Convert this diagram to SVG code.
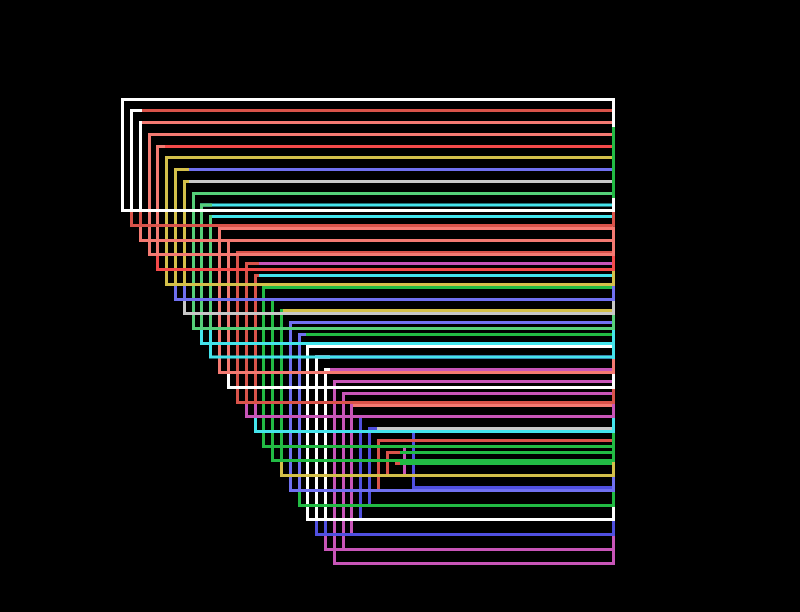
<svg xmlns="http://www.w3.org/2000/svg" width="800" height="612" viewBox="0 0 800 612">
<style>
path{fill:none;stroke-width:3;stroke-linejoin:miter;stroke-linecap:butt}
.w{stroke:#ffffff}.r{stroke:#d9534a}.s{stroke:#f47a72}.rb{stroke:#f44a4a}.y{stroke:#d4c04a}.v{stroke:#7070f0}.gy{stroke:#c8c8c8}.lg{stroke:#55d079}.c{stroke:#44e4ec}.gd{stroke:#22bb44}.m{stroke:#c855b8}.b{stroke:#5050e0}
.fw{fill:#ffffff}.fr{fill:#d9534a}.fs{fill:#f47a72}.frb{fill:#f44a4a}.fy{fill:#d4c04a}.fv{fill:#7070f0}.fgy{fill:#c8c8c8}.flg{fill:#55d079}.fc{fill:#44e4ec}.fgd{fill:#22bb44}.fm{fill:#c855b8}.fb{fill:#5050e0}
</style>
<rect x="0" y="0" width="800" height="612" fill="#000000"/>
<g id="connectors">
<path class="b" d="M613,431.5 H413.5 V487.5 H613"/>
<path class="m" d="M613,446.5 H404.5 V475.5 H613"/>
<path class="gd" d="M613,463.5 H395"/>
<path class="gd" d="M613,452.5 H387.5 V475.5 H613"/>
<path class="r" d="M613,440.5 H378.5 V490.5 H613"/>
<path class="r" d="M400,452.5 H387.5 V477 M400,463.5 H395"/>
<path class="gy" d="M613,428.5 H369.5 V505.5 H613"/>
<path class="b" d="M613,416.5 H360.5 V519.5 H613"/>
<path class="b" d="M377,428.5 H369.5 V507"/>
<path class="s" d="M613,405.5 H351.5 V534.5 H613"/>
<path class="m" d="M613,393.5 H343.5 V549.5 H613"/>
<path class="m" d="M353,405.5 H351.5 V536"/>
<path class="m" d="M613,381.5 H334.5 V563.5 H613"/>
<path class="m" d="M353,393.5 H343.5 V551 M353,405.5 H351.5 V536"/>
<path class="m" d="M613,369.5 H325.5 V549.5 H613"/>
<path class="b" d="M613,357 H316.5 V534.5 H613"/>
<path class="b" d="M330,369.5 H325.5 V536"/>
<path class="w" d="M613,346.5 H307.5 V519.5 H613"/>
<path class="w" d="M330,357 H316.5 V521 M330,369.5 H325.5 V521"/>
<path class="gd" d="M613,334.5 H299.5 V505.5 H613"/>
<path class="v" d="M613,322.5 H290.5 V490.5 H613"/>
<path class="v" d="M306,334.5 H299.5 V492"/>
<path class="y" d="M613,310.5 H281.5 V475.5 H613"/>
<path class="gd" d="M613,299.5 H272.5 V460.5 H613"/>
<path class="gd" d="M283,310.5 H281.5 V462"/>
<path class="gd" d="M613,287.5 H263.5 V446.5 H613"/>
<path class="gd" d="M283,299.5 H272.5 V448 M283,310.5 H281.5 V448"/>
<path class="c" d="M613,275.5 H255.5 V431.5 H613"/>
<path class="m" d="M613,263.5 H246.5 V416.5 H613"/>
<path class="m" d="M259,275.5 H255.5 V418"/>
<path class="r" d="M613,252.5 H237.5 V402.5 H613"/>
<path class="r" d="M259,263.5 H246.5 V404 M259,275.5 H255.5 V404"/>
<path class="w" d="M613,240.5 H228.5 V387.5 H613"/>
<path class="s" d="M613,228.5 H219.5 V372.5 H613"/>
<path class="s" d="M230,240.5 H228.5 V374"/>
<path class="c" d="M613,216.5 H210.5 V357 H613"/>
<path class="c" d="M613,205 H201.5 V343.5 H613"/>
<path class="c" d="M212,216.5 H210.5 V345"/>
<path class="lg" d="M613,193.5 H193.5 V328.5 H613"/>
<path class="lg" d="M212,205 H201.5 V330 M212,216.5 H210.5 V330"/>
<path class="gy" d="M613,181.5 H184.5 V313.5 H613"/>
<path class="v" d="M613,169.5 H175.5 V299.5 H613"/>
<path class="v" d="M189,181.5 H184.5 V301"/>
<path class="y" d="M613,157.5 H166.5 V284.5 H613"/>
<path class="y" d="M189,169.5 H175.5 V286 M189,181.5 H184.5 V286"/>
<path class="rb" d="M613,146.5 H157.5 V269.5 H613"/>
<path class="s" d="M613,134.5 H149.5 V254.5 H613"/>
<path class="s" d="M165,146.5 H157.5 V256"/>
<path class="s" d="M613,122.5 H140.5 V240.5 H613"/>
<path class="r" d="M613,110.5 H131.5 V225.5 H613"/>
<path class="r" d="M142,122.5 H140.5 V227"/>
<path class="w" d="M613,99.5 H122.5 V210.5 H613"/>
<path class="w" d="M142,110.5 H131.5 V212 M142,122.5 H140.5 V212"/>
</g>
<g id="node-a"><rect class="fw" x="612" y="98" width="3" height="29"/></g>
<g id="node-b"><rect class="fgd" x="612" y="127" width="3" height="71"/></g>
<g id="node-c"><rect class="fw" x="612" y="198" width="3" height="14"/></g>
<g id="node-d"><rect class="fr" x="612" y="212" width="3" height="14.5"/></g>
<g id="node-e"><rect class="fs" x="612" y="226.5" width="3" height="29.5"/></g>
<g id="node-f"><rect class="frb" x="612" y="256" width="3" height="15"/></g>
<g id="node-g"><rect class="fy" x="612" y="271" width="3" height="15"/></g>
<g id="node-h"><rect class="fv" x="612" y="286" width="3" height="15"/></g>
<g id="node-i"><rect class="fgy" x="612" y="301" width="3" height="14"/></g>
<g id="node-j"><rect class="flg" x="612" y="315" width="3" height="15"/></g>
<g id="node-k"><rect class="fc" x="612" y="330" width="3" height="29"/></g>
<g id="node-l"><rect class="fs" x="612" y="359" width="3" height="15"/></g>
<g id="node-m"><rect class="fw" x="612" y="374" width="3" height="15"/></g>
<g id="node-n"><rect class="fr" x="612" y="389" width="3" height="15"/></g>
<g id="node-o"><rect class="fm" x="612" y="404" width="3" height="14"/></g>
<g id="node-p"><rect class="fc" x="612" y="418" width="3" height="15"/></g>
<g id="node-q"><rect class="fgd" x="612" y="433" width="3" height="29"/></g>
<g id="node-r"><rect class="fy" x="612" y="462" width="3" height="15"/></g>
<g id="node-s"><rect class="fv" x="612" y="477" width="3" height="15"/></g>
<g id="node-t"><rect class="fgd" x="612" y="492" width="3" height="15"/></g>
<g id="node-u"><rect class="fw" x="612" y="507" width="3" height="14"/></g>
<g id="node-v"><rect class="fb" x="612" y="521" width="3" height="15"/></g>
<g id="node-w"><rect class="fm" x="612" y="536" width="3" height="29"/></g>
</svg>
